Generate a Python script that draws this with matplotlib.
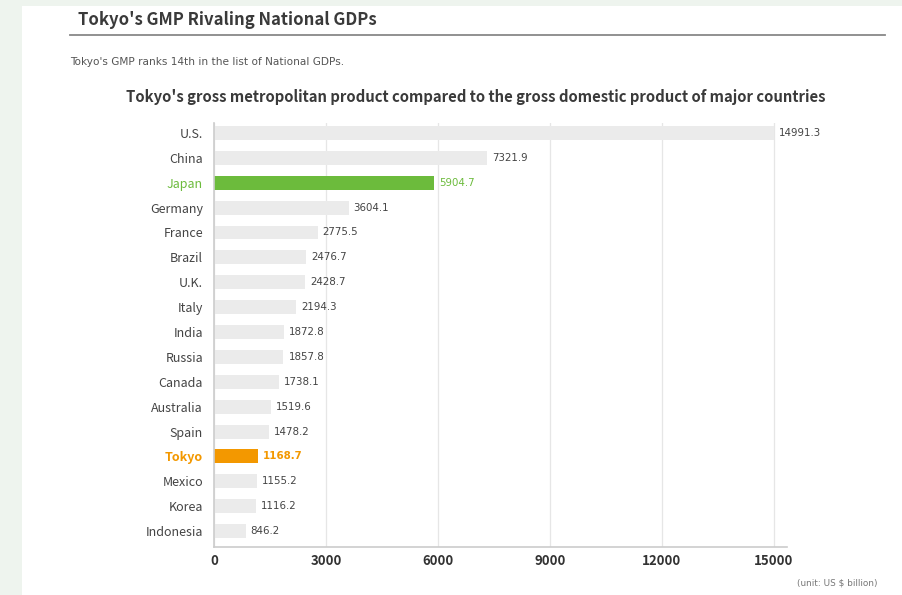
import matplotlib
matplotlib.use("Agg")
import matplotlib.pyplot as plt
from matplotlib.patches import Rectangle
from matplotlib.lines import Line2D

countries = ["U.S.", "China", "Japan", "Germany", "France", "Brazil", "U.K.", "Italy",
             "India", "Russia", "Canada", "Australia", "Spain", "Tokyo", "Mexico",
             "Korea", "Indonesia"]
values = [14991.3, 7321.9, 5904.7, 3604.1, 2775.5, 2476.7, 2428.7, 2194.3,
          1872.8, 1857.8, 1738.1, 1519.6, 1478.2, 1168.7, 1155.2, 1116.2, 846.2]
xticks = [0, 3000, 6000, 9000, 12000, 15000]

plt.rcParams['font.family'] = ['Noto Sans CJK JP', 'DejaVu Sans']
small_font = ['DejaVu Sans']

W, H = 903, 595
fig = plt.figure(figsize=(W / 100, H / 100), dpi=100)
fig.patch.set_facecolor("#eef4ee")
# white panel
fig.patches.append(Rectangle((22 / W, 0), 1 - 22 / W, 1 - 6 / H, transform=fig.transFigure,
                             facecolor="white", edgecolor="none", zorder=-5))

fig.text(78 / W, 1 - 20 / H, "Tokyo's GMP Rivaling National GDPs", fontsize=12,
         fontweight="bold", color="#3a3a3a", va="center", ha="left")
fig.lines.append(Line2D([70 / W, 885 / W], [1 - 35 / H, 1 - 35 / H], transform=fig.transFigure,
                        color="#888888", lw=1.3))
fig.text(70 / W, 1 - 62 / H, "Tokyo's GMP ranks 14th in the list of National GDPs.",
         fontsize=7.6, color="#555555", va="center", ha="left", family=small_font)
fig.text(476 / W, 1 - 97 / H,
         "Tokyo's gross metropolitan product compared to the gross domestic product of major countries",
         fontsize=10.7, fontweight="bold", color="#3a3a3a", va="center", ha="center")
fig.text(878 / W, 1 - 583 / H, "(unit: US $ billion)", fontsize=6.4, color="#777777",
         va="center", ha="right", family=small_font)

left, right, top, bottom = 214, 787, 123, 547
ax = fig.add_axes([left / W, 1 - bottom / H, (right - left) / W, (bottom - top) / H])
ax.set_zorder(2)
ax.set_facecolor("none")

colors = []
for c in countries:
    if c == "Japan":
        colors.append("#6cbb3c")
    elif c == "Tokyo":
        colors.append("#f39800")
    else:
        colors.append("#ebebeb")

ypos = list(range(len(countries)))
ax.barh(ypos, values, height=0.56, color=colors, zorder=2)

xmax = 15000 * (right - left) / 560
ax.set_xlim(0, xmax)
ax.set_ylim(16.64, -0.4)

for y, v, c in zip(ypos, values, countries):
    if c == "Japan":
        col, fw = "#6cbb3c", "normal"
    elif c == "Tokyo":
        col, fw = "#f39800", "bold"
    else:
        col, fw = "#444444", "normal"
    ax.text(v + xmax * 0.009, y, f"{v:.1f}", fontsize=7.4, color=col, fontweight=fw,
            va="center", ha="left", zorder=3, family=small_font)

ax.set_yticks(ypos)
ax.set_yticklabels(countries, fontsize=9)
for lbl, c in zip(ax.get_yticklabels(), countries):
    if c == "Japan":
        lbl.set_color("#6cbb3c")
    elif c == "Tokyo":
        lbl.set_color("#f39800")
        lbl.set_fontweight("bold")
    else:
        lbl.set_color("#444444")

ax.set_xticks(xticks)
ax.set_xticklabels([str(t) for t in xticks], fontsize=9.5, fontweight="bold", color="#333333")
ax.tick_params(axis="both", length=0)
ax.tick_params(axis="y", pad=8)
ax.tick_params(axis="x", pad=5)

ax.grid(axis="x", color="#e6e6e6", lw=0.9, zorder=0)
ax.set_axisbelow(True)
for s in ["top", "right"]:
    ax.spines[s].set_visible(False)
ax.spines["left"].set_color("#cccccc")
ax.spines["bottom"].set_color("#cccccc")
ax.spines["left"].set_linewidth(1.2)
ax.spines["bottom"].set_linewidth(1.2)

fig.savefig("out.png", dpi=100)
